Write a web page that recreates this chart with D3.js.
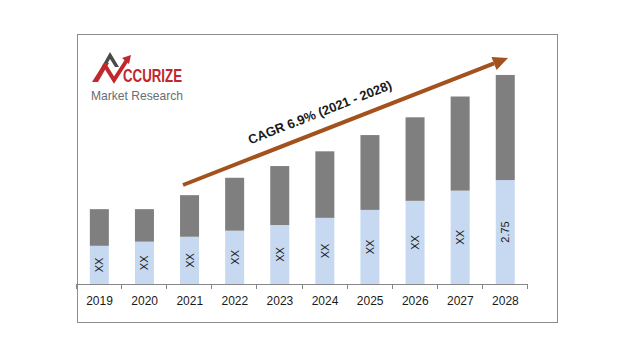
<!DOCTYPE html>
<html><head><meta charset="utf-8">
<script src="https://cdn.jsdelivr.net/npm/d3@7"></script>
<style>body{margin:0;background:#fff}svg{display:block}</style>
</head><body>
<svg id="c" width="640" height="357"></svg>
<script>
const years = ["2019","2020","2021","2022","2023","2024","2025","2026","2027","2028"];
const baseValues = [1.01,1.12,1.25,1.41,1.56,1.75,1.96,2.20,2.47,2.75];
const topValues  = [0.97,0.86,1.10,1.40,1.56,1.76,1.98,2.21,2.49,2.78];
const barLabels  = ["XX","XX","XX","XX","XX","XX","XX","XX","XX","2.75"];
const cagrLabel = "CAGR 6.9% (2021 - 2028)";

const svg = d3.select("#c");
const font = "'Liberation Sans', Arial, sans-serif";

// frame
svg.append("rect").attr("x",77.5).attr("y",34.5).attr("width",480).attr("height",288)
  .attr("fill","#fff").attr("stroke","#8c8c8c").attr("stroke-width",1);

const x = d3.scaleBand().domain(years).range([76,527]).padding(0);
const y = d3.scaleLinear().domain([0,6]).range([284,284-6*37.8]);
const bw = 19;
const bx = d => x(d) + x.bandwidth()/2 - bw/2 + 0.8;

const data = years.map((yr,i)=>({yr, a:baseValues[i], b:topValues[i], lab:barLabels[i]}));

// bars
const g = svg.append("g");
g.selectAll(".lo").data(data).join("rect")
  .attr("x",d=>bx(d.yr)).attr("width",bw)
  .attr("y",d=>y(d.a)).attr("height",d=>y(0)-y(d.a))
  .attr("fill","#c6d9f1");
g.selectAll(".hi").data(data).join("rect")
  .attr("x",d=>bx(d.yr)).attr("width",bw)
  .attr("y",d=>y(d.a+d.b)).attr("height",d=>y(d.a)-y(d.a+d.b))
  .attr("fill","#7f7f7f");

// bar labels
g.selectAll(".lbl").data(data).join("text")
  .attr("transform",d=>`translate(${bx(d.yr)+bw/2+4},${(y(0)+y(d.a))/2}) rotate(-90)`)
  .attr("text-anchor","middle")
  .attr("font-family",font).attr("font-size",11).attr("fill","#1a1a1a")
  .text(d=>d.lab);

// x axis
const ax = svg.append("g").attr("transform","translate(0,284)");
ax.append("line").attr("x1",76).attr("x2",527).attr("y1",0.5).attr("y2",0.5)
  .attr("stroke","#868686");
const edges = years.map(d=>x(d)).concat([x.range()[1]]);
ax.selectAll(".tk").data(edges).join("line")
  .attr("x1",d=>Math.round(d)+0.5).attr("x2",d=>Math.round(d)+0.5)
  .attr("y1",0).attr("y2",5).attr("stroke","#868686");
ax.selectAll(".tl").data(years).join("text")
  .attr("x",d=>x(d)+x.bandwidth()/2+1).attr("y",21)
  .attr("text-anchor","middle").attr("font-family",font).attr("font-size",12)
  .attr("fill","#1a1a1a").text(d=>d);

// CAGR arrow
const ac = "#a3521d";
const x0=183,y0=185,x1=508,y1=58;
const ang = Math.atan2(y1-y0,x1-x0);
const hl=15, hw=7;
const bxh = x1 - hl*Math.cos(ang), byh = y1 - hl*Math.sin(ang);
svg.append("line").attr("x1",x0).attr("y1",y0).attr("x2",bxh).attr("y2",byh)
  .attr("stroke",ac).attr("stroke-width",4);
svg.append("path").attr("d",`M${x1},${y1} L${bxh+hw*Math.sin(ang)},${byh-hw*Math.cos(ang)} L${bxh-hw*Math.sin(ang)},${byh+hw*Math.cos(ang)} Z`)
  .attr("fill",ac);
svg.append("text")
  .attr("transform",`translate(321.5,116.5) rotate(${ang*180/Math.PI})`)
  .attr("text-anchor","middle").attr("font-family",font).attr("font-weight","bold")
  .attr("font-size",13).attr("fill","#1a1a1a").text(cagrLabel);

// logo
const lg = svg.append("g");
lg.append("path").attr("d","M101,68 L110,52 L119,67 L115,67 L110,59 L105,68 Z").attr("fill","#4a4a4a");
lg.append("path").attr("d","M92,82 L104,63 L109,63 L98,82 Z").attr("fill","#c1272d");
lg.append("path").attr("d","M104,64 L114,80 L127,60").attr("fill","none").attr("stroke","#c1272d").attr("stroke-width",4);
lg.append("path").attr("d","M131,55 L122,58 L129,64 Z").attr("fill","#c1272d");
lg.append("text").attr("x",123).attr("y",82).attr("font-family",font).attr("font-weight","bold")
  .attr("font-size",19).attr("fill","#c1272d").attr("textLength",59).attr("lengthAdjust","spacingAndGlyphs")
  .text("CCURIZE");
lg.append("text").attr("x",91).attr("y",100).attr("font-family",font)
  .attr("font-size",13).attr("fill","#6d6d6d").attr("textLength",92).attr("lengthAdjust","spacingAndGlyphs")
  .text("Market Research");
</script>
</body></html>
